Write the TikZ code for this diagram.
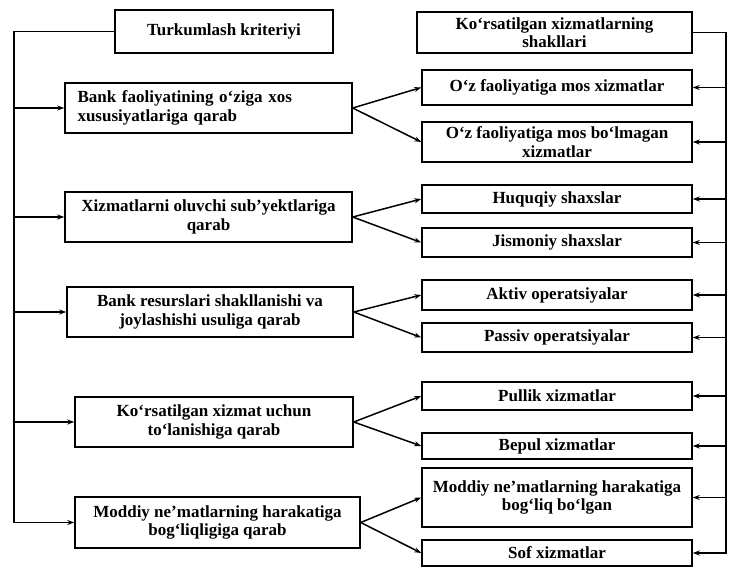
\documentclass[tikz,border=0pt]{standalone}
\usepackage{fontspec}
\setmainfont{Liberation Serif}
\usetikzlibrary{arrows.meta}
\begin{document}
\begin{tikzpicture}[x=1pt,y=-1pt,
  box/.style={draw, line width=1.5pt, inner sep=0pt, align=center,
    font=\bfseries\fontsize{17}{18.5}\selectfont},
  arr/.style={line width=1.5pt, -{Stealth[length=7pt,width=5pt]}},
  ln/.style={line width=1.5pt}]
\useasboundingbox (0,0) rectangle (729,568);
% left column
\node[box, minimum width=218pt, minimum height=43pt] (T) at (224,31.5) {Turkumlash kriteriyi};
\node[box, minimum width=287pt, minimum height=50pt, text width=262pt, align=left] (L1) at (208.5,108) {Bank faoliyatining o‘ziga xos\\xususiyatlariga qarab};
\node[box, minimum width=287pt, minimum height=50pt] (L2) at (208.5,217) {Xizmatlarni oluvchi sub’yektlariga\\qarab};
\node[box, minimum width=286pt, minimum height=50pt] (L3) at (210,312) {Bank resurslari shakllanishi va\\joylashishi usuliga qarab};
\node[box, minimum width=278pt, minimum height=50pt] (L4) at (214,422) {Ko‘rsatilgan xizmat uchun\\to‘lanishiga qarab};
\node[box, minimum width=285pt, minimum height=51pt] (L5) at (217.5,522.5) {Moddiy ne’matlarning harakatiga\\bog‘liqligiga qarab};
% right column
\node[box, minimum width=275pt, minimum height=41pt] (R0) at (554.5,32.5) {Ko‘rsatilgan xizmatlarning\\shakllari};
\node[box, minimum width=270pt, minimum height=35pt] (R1) at (557,87.5) {O‘z faoliyatiga mos xizmatlar};
\node[box, minimum width=270pt, minimum height=40pt] (R2) at (557,142) {O‘z faoliyatiga mos bo‘lmagan\\xizmatlar};
\node[box, minimum width=270pt, minimum height=28pt] (R3) at (557,199) {Huquqiy shaxslar};
\node[box, minimum width=270pt, minimum height=29pt] (R4) at (557,242.5) {Jismoniy shaxslar};
\node[box, minimum width=270pt, minimum height=30pt] (R5) at (557,295) {Aktiv operatsiyalar};
\node[box, minimum width=270pt, minimum height=29pt] (R6) at (557,337.5) {Passiv operatsiyalar};
\node[box, minimum width=270pt, minimum height=28pt] (R7) at (557,396) {Pullik xizmatlar};
\node[box, minimum width=270pt, minimum height=26pt] (R8) at (557,446) {Bepul xizmatlar};
\node[box, minimum width=270pt, minimum height=59pt] (R9) at (557,497.5) {Moddiy ne’matlarning harakatiga\\bog‘liq bo‘lgan};
\node[box, minimum width=270pt, minimum height=26pt] (R10) at (557,553) {Sof xizmatlar};
% left trunk
\coordinate (lt) at (14,31.5);
\draw[arr] (T.west) -- (lt) |- (L5.west);
\foreach \n in {L1,L2,L3,L4} \draw[arr] (lt |- \n.west) -- (\n.west);
% right trunk
\coordinate (rt) at (726,32.5);
\draw[arr] (R0.east) -- (rt) |- (R10.east);
\foreach \n in {R1,R2,R3,R4,R5,R6,R7,R8,R9} \draw[arr] (rt |- \n.east) -- (\n.east);
% forks
\draw[arr] (L1.east) -- (R1.west);
\draw[arr] (L1.east) -- (R2.west);
\draw[arr] (L2.east) -- (R3.west);
\draw[arr] (L2.east) -- (R4.west);
\draw[arr] (L3.east) -- (R5.west);
\draw[arr] (L3.east) -- (R6.west);
\draw[arr] (L4.east) -- (R7.west);
\draw[arr] (L4.east) -- (R8.west);
\draw[arr] (L5.east) -- (R9.west);
\draw[arr] (L5.east) -- (R10.west);
\end{tikzpicture}
\end{document}
